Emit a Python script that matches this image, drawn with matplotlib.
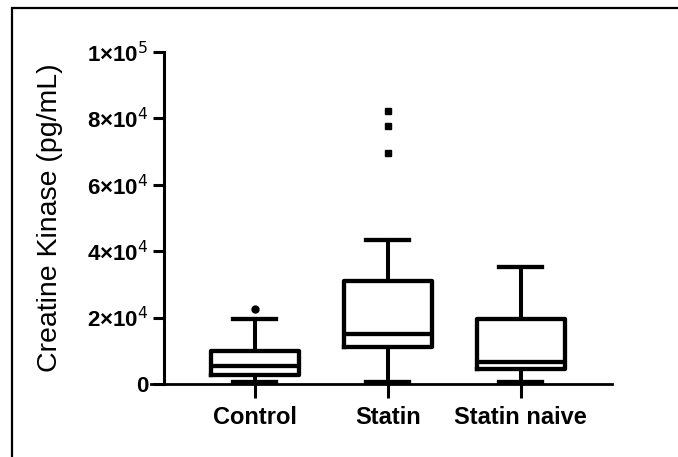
import numpy as np
import matplotlib.pyplot as plt
from matplotlib.patches import Rectangle

plt.rcParams['font.family'] = ['Liberation Sans', 'DejaVu Sans']

# datos
grupos = ['Control', 'Statin', 'Statin naive']
q1 = [2700, 11000, 4400]
medianas = [5400, 15200, 6700]
q3 = [9800, 31100, 19500]
bigote_inf = [500, 500, 500]
bigote_sup = [19500, 43500, 35300]
atipicos = [[22700], [69700, 77600, 82200], []]
marcas = ['o', 's', 's']

yticks = [0, 20000, 40000, 60000, 80000, 100000]
ytick_labels = ['0', r'2×10$^{4}$', r'4×10$^{4}$', r'6×10$^{4}$', r'8×10$^{4}$', r'1×10$^{5}$']

fig = plt.figure(figsize=(6.78, 4.57), dpi=100)
ax = fig.add_axes([150.7/678, 1-384/457, (611.7-150.7)/678, (384-52)/457])

pos = np.arange(1, len(grupos)+1)
stats = []
for i in range(len(grupos)):
    stats.append({'med': medianas[i], 'q1': q1[i], 'q3': q3[i],
                  'whislo': bigote_inf[i], 'whishi': bigote_sup[i], 'fliers': []})

ax.bxp(stats, positions=pos, widths=0.66, capwidths=0.32, showfliers=False,
       boxprops=dict(color='black', linewidth=3.1),
       medianprops=dict(color='black', linewidth=3.1),
       whiskerprops=dict(color='black', linewidth=2.9),
       capprops=dict(color='black', linewidth=3.1))

for i in range(len(grupos)):
    if atipicos[i]:
        ax.plot([pos[i]]*len(atipicos[i]), atipicos[i], marcas[i], color='black',
                markersize=5, linestyle='none')

ax.set_xlim(pos[0] - 104/133, pos[-1] + 91/133)
ax.set_ylim(0, 100000)
ax.spines['top'].set_visible(False)
ax.spines['right'].set_visible(False)
ax.spines['left'].set_position(('data', pos[0] - 91/133))
ax.spines['left'].set_bounds(0, 100000)
ax.spines['left'].set_linewidth(2.2)
ax.spines['bottom'].set_linewidth(2.0)

ax.set_yticks(yticks)
ax.set_yticklabels(ytick_labels, fontsize=16, fontweight='bold')
ax.set_xticks(pos)
ax.set_xticklabels(grupos, fontsize=17, fontweight='bold')
ax.tick_params(axis='y', length=8, width=2.2, pad=3)
ax.tick_params(axis='x', length=10, width=2.2, pad=6)

ax.set_ylabel('Creatine Kinase (pg/mL)', fontsize=20.5)
ax.yaxis.set_label_coords(-0.19, 0.5)

# marco de la imagen
fig.patches.append(Rectangle((12/678, -0.1), 1.0, 1 - 8/457 + 0.1,
                             transform=fig.transFigure, fill=False,
                             edgecolor='black', linewidth=1.6))

fig.savefig('out.png', dpi=100)
